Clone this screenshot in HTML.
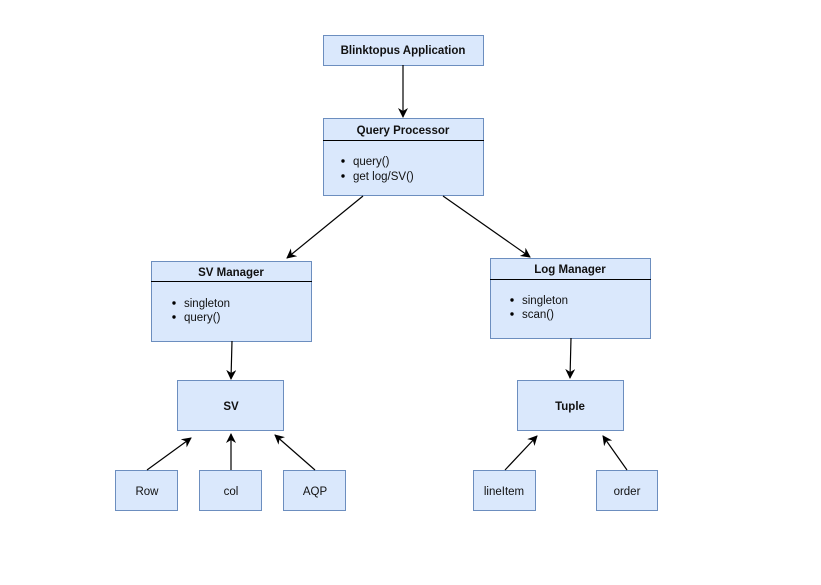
<!DOCTYPE html>
<html><head><meta charset="utf-8"><style>
body{margin:0;background:#fff;}
svg text{font-family:"Liberation Sans",Arial,sans-serif;font-size:11.5px;fill:#111;}
.b{font-weight:bold;}
rect{fill:#dae8fc;stroke:#6c8ebf;stroke-width:1;}
line.c{stroke:#000;stroke-width:1.2;marker-end:url(#a);}
</style></head><body>
<svg width="821" height="580" xmlns="http://www.w3.org/2000/svg">
<defs><marker id="a" markerWidth="10" markerHeight="10" refX="9" refY="5" orient="auto" markerUnits="userSpaceOnUse"><path d="M0,0 L10,5 L0,10 L3,5 z" fill="#000"/></marker></defs>
<rect x="323.5" y="35.5" width="160" height="30"/>
<text class="b" x="403" y="54" text-anchor="middle">Blinktopus Application</text>
<rect x="323.5" y="118.5" width="160" height="77"/>
<line x1="323" y1="140.5" x2="484" y2="140.5" stroke="#000"/>
<text class="b" x="403" y="134" text-anchor="middle">Query Processor</text>
<circle cx="343" cy="161" r="1.7"/><text x="353" y="165">query()</text>
<circle cx="343" cy="176" r="1.7"/><text x="353" y="180">get log/SV()</text>
<rect x="151.5" y="261.5" width="160" height="80"/>
<line x1="151" y1="281.5" x2="312" y2="281.5" stroke="#000"/>
<text class="b" x="231" y="276" text-anchor="middle">SV Manager</text>
<circle cx="174" cy="303" r="1.7"/><text x="184" y="307">singleton</text>
<circle cx="174" cy="317" r="1.7"/><text x="184" y="321">query()</text>
<rect x="490.5" y="258.5" width="160" height="80"/>
<line x1="490" y1="279.5" x2="651" y2="279.5" stroke="#000"/>
<text class="b" x="570" y="273" text-anchor="middle">Log Manager</text>
<circle cx="512" cy="300" r="1.7"/><text x="522" y="304">singleton</text>
<circle cx="512" cy="314" r="1.7"/><text x="522" y="318">scan()</text>
<rect x="177.5" y="380.5" width="106" height="50"/>
<text class="b" x="231" y="410" text-anchor="middle">SV</text>
<rect x="517.5" y="380.5" width="106" height="50"/>
<text class="b" x="570" y="410" text-anchor="middle">Tuple</text>
<rect x="115.5" y="470.5" width="62" height="40"/><text x="147" y="495" text-anchor="middle">Row</text>
<rect x="199.5" y="470.5" width="62" height="40"/><text x="231" y="495" text-anchor="middle">col</text>
<rect x="283.5" y="470.5" width="62" height="40"/><text x="315" y="495" text-anchor="middle">AQP</text>
<rect x="473.5" y="470.5" width="62" height="40"/><text x="504" y="495" text-anchor="middle">lineItem</text>
<rect x="596.5" y="470.5" width="61" height="40"/><text x="627" y="495" text-anchor="middle">order</text>
<line class="c" x1="403" y1="65" x2="403" y2="117"/>
<line class="c" x1="363" y1="196" x2="287" y2="258"/>
<line class="c" x1="443" y1="196" x2="530" y2="257"/>
<line class="c" x1="232" y1="341" x2="231" y2="379"/>
<line class="c" x1="571" y1="338" x2="570" y2="378"/>
<line class="c" x1="147" y1="470" x2="191" y2="438"/>
<line class="c" x1="231" y1="470" x2="231" y2="434"/>
<line class="c" x1="315" y1="470" x2="275" y2="435"/>
<line class="c" x1="505" y1="470" x2="537" y2="436"/>
<line class="c" x1="627" y1="470" x2="603" y2="436"/>
</svg>
</body></html>
